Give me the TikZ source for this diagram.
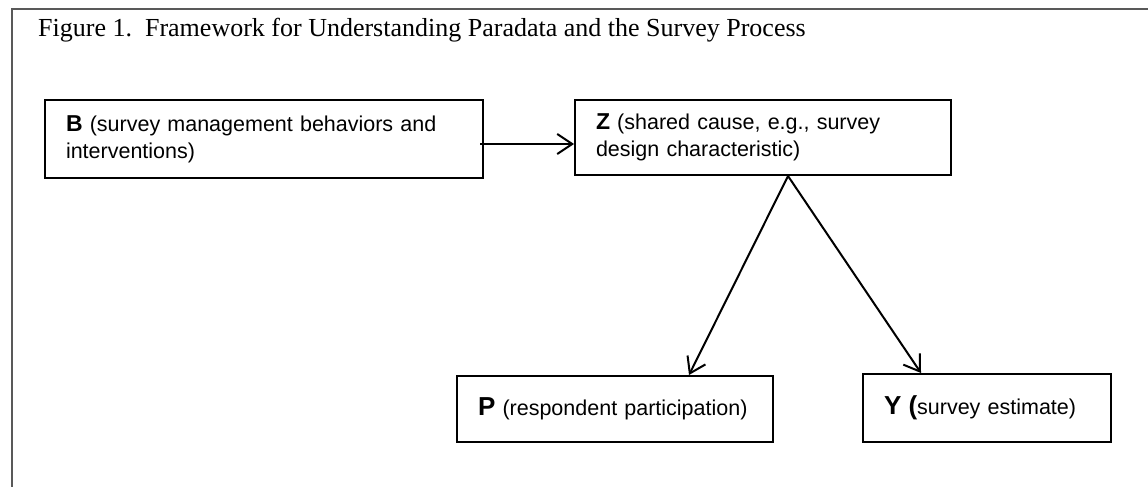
\documentclass[tikz,border=0pt]{standalone}
\usepackage{fontspec}
\setmainfont{Liberation Serif}
\newfontfamily\arialfont{Liberation Sans}
\usetikzlibrary{arrows.meta}
\hyphenpenalty=10000
\newcommand\boxfont{\arialfont\fontsize{21.5}{27}\selectfont}
\newcommand\vname[1]{{\bfseries\fontsize{23}{27}\selectfont #1}}
\newcommand\vnamebig[1]{{\bfseries\fontsize{26}{27}\selectfont #1}}
\tikzset{
  box/.style={draw, line width=2pt, rectangle, anchor=north west, align=left,
    inner xsep=21pt, inner ysep=0pt, font=\boxfont},
  arr/.style={-{Straight Barb[length=15pt,width=20pt]}, line width=2pt},
  frame/.style={line width=1.2pt, black!65}
}
\begin{document}
\begin{tikzpicture}[x=1pt, y=-1pt]
      \useasboundingbox (0,0) rectangle (1148,487);
      \draw[frame] (12,487) -- (12,9) -- (1148,9);
      \node[anchor=base west, inner sep=0pt, font=\fontsize{26}{30}\selectfont]
        (title) at (38,37) {Figure 1.\hspace{13pt}Framework for Understanding Paradata and the Survey Process};
      \node[box, minimum width=438pt, minimum height=78pt, text width=396pt]
        (B) at (44,99) {\vname{B} (survey management behaviors and interventions)};
      \node[box, minimum width=376pt, minimum height=75pt, text width=334pt]
        (Z) at (574,99) {\vname{Z} (shared cause, e.g., survey design characteristic)};
      \node[box, minimum width=316pt, minimum height=66pt, text width=274pt]
        (P) at (456,375) {\vnamebig{P} (respondent participation)};
      \node[box, minimum width=248pt, minimum height=68pt, text width=206pt]
        (Y) at (862,373) {\vnamebig{Y (}survey estimate)};
      \begin{scope}[arr]
        \draw ([shift={(-4pt,-5pt)}]B.east) -- ([yshift=-6.5pt]Z.west);
        \draw ([xshift=214pt]Z.south west) -- ([xshift=233pt]P.north west);
        \draw ([xshift=214pt]Z.south west) -- ([xshift=59pt]Y.north west);
      \end{scope}
\end{tikzpicture}
\end{document}
